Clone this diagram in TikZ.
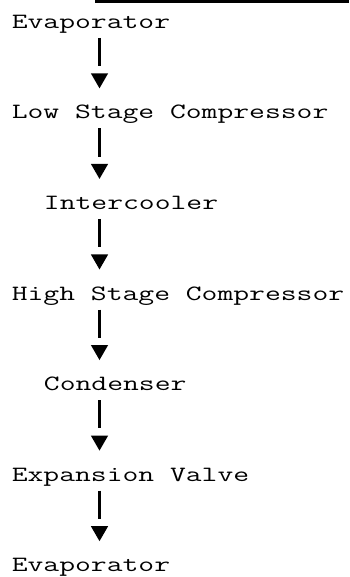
\documentclass[tikz,border=0pt]{standalone}
\usetikzlibrary{shapes.geometric}

\begin{document}
\begin{tikzpicture}[x=1pt, y=-1pt,
    stage/.style={anchor=base west, inner sep=0pt, font=\fontsize{21.8}{23}\ttfamily, xscale=1.41},
    head/.style={regular polygon, regular polygon sides=3, shape border rotate=180, fill=black, inner sep=0pt, minimum size=20pt},
    stem/.style={line width=2.3pt, shorten <=9.5pt, shorten >=7pt}]
  \useasboundingbox (0,0) rectangle (349,577);

  % Draw the strip along the top edge
  \fill (94.5,0) rectangle (349,3);

  % Draw the stages (two columns of indent for the middle ones)
  \foreach \shift/\txt [count=\i] in {0/Evaporator, 0/Low Stage Compressor, 2/Intercooler, 0/High Stage Compressor, 2/Condenser, 0/Expansion Valve, 0/Evaporator} {
    \node[stage] (s\i) at ({11.5+16.1*\shift}, {28.3+90.57*(\i-1)}) {\txt};
  }

  % Draw the arrows between the stages
  \foreach \i in {1,...,6} {
    \node[head] (h\i) at (99.5, {28.3+90.57*(\i-1)+50}) {};
    \draw[stem] (s\i.base -| h\i) -- (h\i);
  }
\end{tikzpicture}
\end{document}
